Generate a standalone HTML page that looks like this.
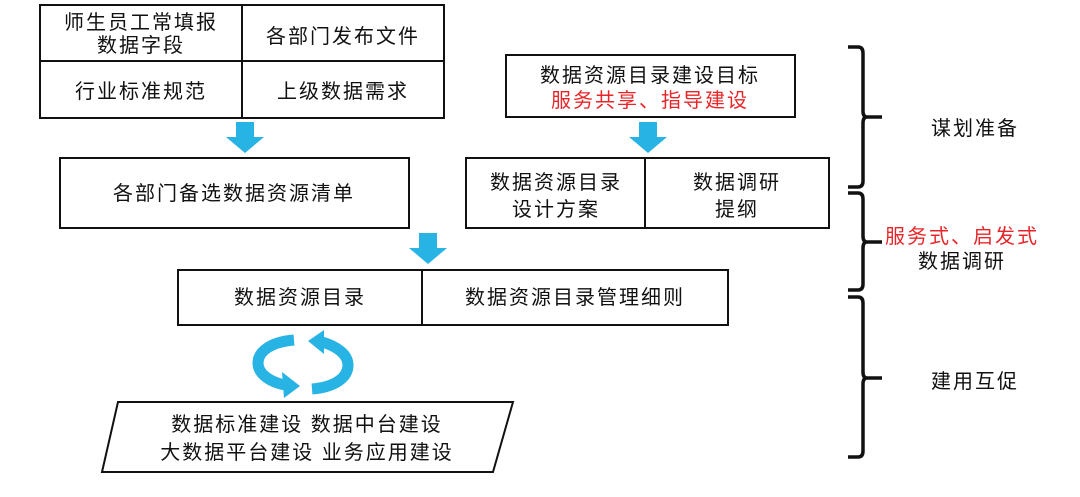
<!DOCTYPE html>
<html><head><meta charset="utf-8"><style>
body{margin:0;background:#fff;}
svg text{font-family:"Liberation Sans","Noto Sans CJK SC",sans-serif;font-size:20px;fill:#111;text-anchor:middle;letter-spacing:2px;}
</style></head><body>
<svg width="1080" height="492" viewBox="0 0 1080 492" xmlns="http://www.w3.org/2000/svg">
<g fill="none" stroke="#111" stroke-width="2">
<rect x="40" y="5" width="404" height="113"/>
<line x1="242" y1="5" x2="242" y2="118"/><line x1="40" y1="61" x2="444" y2="61"/>
<rect x="60" y="158" width="349" height="70"/>
<rect x="506" y="55" width="289" height="62"/>
<rect x="466" y="158" width="363" height="70"/><line x1="645" y1="158" x2="645" y2="228"/>
<rect x="178" y="270" width="550" height="55"/><line x1="422" y1="270" x2="422" y2="325"/>
<polygon points="118,402 513,402 493,472 102,472"/>
</g>
<g fill="none" stroke="#111" stroke-width="3.5" stroke-linejoin="round">
<path d="M848,47 H858 Q863,47 863,53 V111 Q863,117 867,117 Q863,117 863,123 V181 Q863,187 858,187 H848 M867,117 H882"/>
<path d="M848,193 H858 Q863,193 863,199 V236 Q863,242 867,242 Q863,242 863,248 V284 Q863,290 858,290 H848 M867,242 H882"/>
<path d="M848,297 H858 Q863,297 863,303 V372 Q863,378 867,378 Q863,378 863,384 V451 Q863,457 858,457 H848 M867,378 H882"/>
</g>
<g fill="#27b3e3">
<polygon points="236,122 254,122 254,137 264,137 245,153 226,137 236,137"/>
<polygon points="639,122 657,122 657,137 667,137 648,153 629,137 639,137"/>
<polygon points="419,233 437,233 437,248 447,248 428,264 409,248 419,248"/>
<polygon points="282,372 300,386 284,398"/>
<polygon points="324,330 308,341 324,354"/>
</g>
<g fill="none" stroke="#27b3e3" stroke-width="11">
<path d="M294,340 C270,342 258,352 258,363 C258,374 270,382 285,385"/>
<path d="M312,389 C336,387 348,377 348,365 C348,354 336,346 322,342"/>
</g>
<text x="141" y="29">师生员工常填报</text>
<text x="141" y="52">数据字段</text>
<text x="343" y="43">各部门发布文件</text>
<text x="141" y="98">行业标准规范</text>
<text x="343" y="98">上级数据需求</text>
<text x="234" y="200">各部门备选数据资源清单</text>
<text x="650" y="82">数据资源目录建设目标</text>
<text x="650" y="107" style="fill:#e8262a">服务共享、指导建设</text>
<text x="556" y="189">数据资源目录</text>
<text x="556" y="216">设计方案</text>
<text x="737" y="189">数据调研</text>
<text x="737" y="216">提纲</text>
<text x="300" y="304">数据资源目录</text>
<text x="575" y="304">数据资源目录管理细则</text>
<text x="307" y="431">数据标准建设  数据中台建设</text>
<text x="307" y="459">大数据平台建设  业务应用建设</text>
<text x="975" y="135">谋划准备</text>
<text x="962" y="243" style="fill:#e8262a">服务式、启发式</text>
<text x="962" y="268">数据调研</text>
<text x="975" y="388">建用互促</text>
</svg>
</body></html>
